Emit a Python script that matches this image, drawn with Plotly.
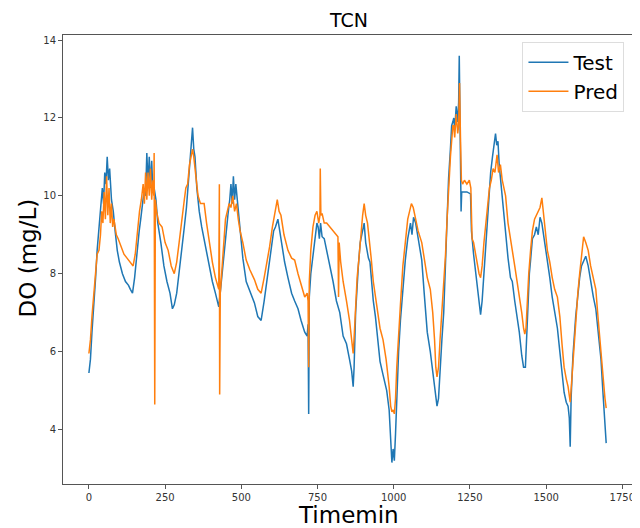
import plotly.graph_objects as go

# Test series (time in minutes, DO in mg/L)
test_t = [0, 5, 10, 16, 22, 27, 33, 38, 44, 48, 52, 56, 60, 64, 68, 74, 80, 86, 93, 100,
          110, 120, 130, 136, 143, 150, 158, 165, 170, 176, 182, 186, 190, 194, 198, 202, 206, 210, 214, 220,
          226, 236, 246, 256, 266, 274, 280, 288, 296, 305, 313, 320, 326, 332, 336, 340, 344, 348, 354, 362,
          370, 380, 395, 405, 415, 426, 432, 440, 448, 456, 462, 466, 470, 474, 478, 482, 488, 495, 505, 516,
          530, 543, 554, 565, 575, 585, 593, 600, 606, 612, 620, 626, 632, 642, 653, 665, 675, 686, 696, 708,
          716, 719, 721, 723, 728, 735, 742, 748, 752, 756, 760, 765, 772, 780, 790, 801, 812, 823, 834, 845,
          855, 862, 867, 870, 875, 878, 884, 890, 896, 903, 908, 912, 917, 922, 927, 933, 940, 948, 955, 965,
          977, 985, 990, 994, 998, 1002, 1006, 1010, 1016, 1022, 1030, 1038, 1046, 1055, 1060, 1065, 1072, 1080, 1092, 1100,
          1110, 1120, 1130, 1137, 1142, 1147, 1152, 1158, 1164, 1170, 1175, 1180, 1186, 1190, 1194, 1197, 1200, 1205, 1210, 1213,
          1215, 1217, 1219, 1221, 1223, 1240, 1252, 1255, 1262, 1268, 1275, 1280, 1285, 1290, 1296, 1302, 1306, 1312, 1318, 1324,
          1330, 1334, 1338, 1342, 1346, 1352, 1358, 1363, 1367, 1375, 1383, 1389, 1397, 1405, 1412, 1420, 1426, 1432, 1436, 1440,
          1445, 1449, 1455, 1462, 1468, 1474, 1480, 1486, 1492, 1498, 1504, 1512, 1520, 1528, 1537, 1545, 1552, 1559, 1566, 1572,
          1576, 1579, 1582, 1588, 1597, 1604, 1610, 1616, 1622, 1630, 1638, 1646, 1655, 1663, 1670, 1676, 1680, 1686, 1692, 1697]
test_do = [5.45, 5.8, 6.5, 7.1, 7.9, 8.6, 9.2, 9.6, 10.2, 9.8, 10.6, 10.3, 11.0, 10.4, 10.7, 9.9, 9.6, 9.1, 8.6, 8.3,
           8.0, 7.8, 7.7, 7.6, 7.5, 7.9, 8.6, 9.1, 9.4, 9.8, 10.2, 10.0, 11.1, 10.3, 11.0, 10.2, 10.9, 10.1, 10.2, 9.9,
           9.3, 8.8, 8.2, 7.8, 7.5, 7.1, 7.2, 7.5, 8.1, 8.7, 9.2, 9.7, 10.3, 10.9, 11.2, 11.75, 11.2, 11.0, 10.2, 9.6,
           9.2, 8.8, 8.2, 7.8, 7.5, 7.15, 7.6, 8.3, 9.0, 9.5, 9.9, 10.3, 9.8, 10.5, 9.9, 10.3, 9.8, 9.2, 8.4, 7.8,
           7.5, 7.25, 6.9, 6.8, 7.3, 7.9, 8.4, 8.7, 9.1, 9.2, 9.4, 9.1, 8.8, 8.3, 7.9, 7.5, 7.3, 7.1, 6.8, 6.5,
           6.4, 6.7, 4.4, 7.4, 8.0, 8.45, 8.9, 9.3, 9.2, 8.9, 9.3, 8.95, 8.9, 8.6, 8.2, 7.8, 7.3, 7.0, 6.4, 6.2,
           5.8, 5.5, 5.1, 5.6, 7.0, 7.5, 8.2, 8.8, 9.0, 9.3, 8.8, 8.6, 8.4, 8.3, 7.8, 7.3, 6.9, 6.3, 5.75, 5.4,
           5.0, 4.5, 3.6, 3.15, 3.5, 3.2, 3.9, 5.0, 6.0, 6.8, 7.6, 8.35, 8.9, 9.3, 9.0, 9.45, 9.3, 8.9, 8.35, 7.5,
           6.5, 6.0, 5.3, 4.8, 4.6, 4.8, 5.6, 6.3, 7.0, 8.3, 9.5, 10.45, 11.2, 11.8, 11.9, 12.0, 11.7, 12.3, 11.9, 12.4,
           13.6, 12.6, 11.5, 9.6, 10.1, 10.1, 10.05, 9.1, 8.5, 8.05, 7.6, 7.2, 6.95, 7.3, 8.0, 8.9, 9.4, 10.0, 10.6, 11.0,
           11.4, 11.6, 11.3, 11.4, 10.8, 10.3, 9.8, 9.3, 9.1, 8.4, 7.9, 7.8, 7.3, 6.9, 6.5, 5.9, 5.6, 5.6, 6.3, 7.4,
           8.0, 8.35, 8.9, 9.0, 9.2, 9.0, 9.45, 9.3, 9.0, 8.7, 8.35, 7.9, 7.4, 7.0, 6.6, 6.0, 5.4, 4.95, 4.7, 4.6,
           4.3, 3.56, 4.8, 5.9, 6.9, 7.5, 7.9, 8.2, 8.3, 8.45, 8.2, 7.8, 7.4, 7.1, 6.6, 6.2, 5.8, 5.0, 4.2, 3.65]

# Pred series
pred_t = [0, 5, 10, 16, 22, 27, 33, 38, 42, 46, 50, 54, 58, 62, 66, 70, 74, 78, 82, 90,
          96, 105, 115, 125, 135, 145, 152, 160, 166, 172, 178, 182, 186, 190, 194, 198, 202, 206, 210, 213,
          214, 216, 218, 222, 230, 240, 250, 260, 270, 280, 288, 296, 304, 313, 318, 324, 330, 336, 340, 344,
          350, 358, 366, 378, 386, 395, 405, 415, 421, 426, 428, 429, 431, 436, 442, 448, 454, 460, 466, 472,
          478, 484, 490, 496, 505, 516, 528, 543, 554, 565, 575, 585, 593, 602, 610, 618, 624, 630, 640, 653,
          665, 675, 686, 696, 708, 716, 719, 721, 723, 728, 735, 742, 748, 754, 758, 759, 761, 765, 772, 780,
          790, 800, 810, 817, 819, 821, 826, 834, 845, 855, 862, 867, 871, 875, 880, 886, 892, 898, 903, 908,
          914, 920, 926, 933, 940, 948, 955, 965, 975, 985, 990, 994, 998, 1002, 1006, 1010, 1016, 1022, 1030, 1038,
          1046, 1052, 1058, 1064, 1070, 1080, 1092, 1100, 1110, 1120, 1128, 1134, 1138, 1142, 1147, 1152, 1158, 1164, 1170, 1175,
          1180, 1186, 1190, 1194, 1197, 1200, 1205, 1210, 1213, 1216, 1219, 1222, 1226, 1232, 1240, 1248, 1253, 1257, 1262, 1268,
          1275, 1280, 1285, 1290, 1296, 1302, 1308, 1314, 1320, 1326, 1332, 1339, 1344, 1350, 1356, 1362, 1367, 1375, 1383, 1389,
          1397, 1405, 1412, 1420, 1426, 1430, 1434, 1438, 1443, 1449, 1455, 1462, 1468, 1474, 1480, 1486, 1490, 1496, 1504, 1512,
          1520, 1528, 1537, 1545, 1552, 1559, 1566, 1572, 1579, 1584, 1590, 1597, 1604, 1610, 1616, 1623, 1630, 1638, 1646, 1655,
          1663, 1670, 1676, 1682, 1688, 1693, 1697]
pred_do = [5.95, 6.3, 6.9, 7.4, 8.1, 8.5, 8.6, 9.0, 9.6, 9.3, 10.1, 9.4, 10.5, 9.5, 10.2, 9.3, 9.8, 9.2, 9.4, 9.0,
           8.9, 8.7, 8.5, 8.4, 8.3, 8.2, 8.5, 9.2, 9.6, 9.9, 10.3, 9.8, 10.6, 9.9, 10.6, 10.0, 10.7, 9.9, 10.4, 10.0,
           11.1, 4.64, 9.9, 9.6, 9.3, 9.2, 8.8, 8.6, 8.2, 8.0, 8.3, 8.8, 9.4, 9.9, 10.2, 10.3, 10.8, 11.0, 11.2, 11.0,
           10.6, 10.0, 9.8, 9.8, 9.3, 8.8, 8.3, 7.9, 7.75, 7.6, 10.3, 4.9, 7.5, 8.0, 8.8, 9.4, 9.6, 9.8, 9.7, 10.0,
           9.6, 9.8, 9.4, 9.1, 8.8, 8.35, 8.1, 7.85, 7.6, 7.5, 7.9, 8.3, 8.7, 9.2, 9.6, 9.9, 9.6, 9.5, 9.0, 8.6,
           8.4, 8.35, 8.0, 7.7, 7.4, 7.5, 7.3, 5.6, 7.8, 8.6, 9.2, 9.5, 9.6, 9.3, 9.5, 10.7, 9.5, 9.55, 9.3, 9.3,
           9.2, 9.1, 9.0, 8.95, 7.4, 8.8, 8.3, 7.8, 7.3, 6.8, 6.3, 5.95, 6.5, 7.3, 7.9, 8.4, 9.0, 9.5, 9.8, 9.5,
           9.3, 8.9, 8.4, 7.8, 7.4, 7.0, 6.6, 6.3, 5.8, 5.1, 4.6, 4.45, 4.5, 4.4, 4.8, 5.6, 6.5, 7.2, 8.2, 8.9,
           9.4, 9.6, 9.8, 9.7, 9.5, 9.1, 8.8, 8.4, 7.9, 7.6, 7.0, 6.3, 5.6, 5.35, 5.6, 6.3, 7.0, 7.6, 8.5, 9.4,
           10.3, 11.0, 11.4, 11.8, 11.8, 11.5, 12.1, 11.6, 11.8, 12.9, 11.5, 10.4, 10.3, 10.4, 10.3, 10.4, 10.2, 8.9, 8.8, 8.5,
           8.2, 8.0, 7.9, 8.2, 8.8, 9.3, 9.7, 10.2, 10.4, 10.7, 10.6, 11.05, 10.6, 10.8, 10.4, 10.2, 10.0, 9.3, 8.95, 8.6,
           8.2, 7.8, 7.5, 7.0, 6.6, 6.45, 6.6, 7.3, 8.0, 8.6, 9.1, 9.4, 9.5, 9.6, 9.7, 9.95, 9.6, 9.2, 8.6, 8.3,
           7.9, 7.6, 7.4, 6.9, 6.2, 5.6, 5.3, 5.1, 4.7, 5.3, 6.1, 6.9, 7.5, 8.0, 8.5, 8.95, 8.8, 8.6, 8.2, 7.9,
           7.6, 6.9, 6.3, 5.8, 5.3, 4.8, 4.55]

x_ticks = [0, 250, 500, 750, 1000, 1250, 1500, 1750]
y_ticks = [4, 6, 8, 10, 12, 14]

fig = go.Figure()
fig.add_trace(go.Scatter(x=test_t, y=test_do, mode='lines', name='Test',
                         line=dict(color='#1f77b4', width=1.5)))
fig.add_trace(go.Scatter(x=pred_t, y=pred_do, mode='lines', name='Pred',
                         line=dict(color='#ff7f0e', width=1.5)))

axis_common = dict(showline=True, linecolor='#555555', linewidth=1, mirror=True,
                   showgrid=False, zeroline=False, ticks='outside', ticklen=4,
                   tickcolor='#555555', tickfont=dict(size=10, color='#333333'),
                   automargin=False)

# the page body adds an 8px offset, so the figure is 8px smaller each way
fig.update_layout(
    width=632, height=520,
    paper_bgcolor='white', plot_bgcolor='white',
    font=dict(family='DejaVu Sans', color='black'),
    margin=dict(l=55, r=7, t=27, b=44),
    xaxis=dict(range=[-85, 1785], tickvals=x_ticks, **axis_common),
    yaxis=dict(range=[2.6, 14.13], tickvals=y_ticks, **axis_common),
    legend=dict(x=0.985, y=0.985, xanchor='right', yanchor='top',
                bgcolor='white', bordercolor='#dddddd', borderwidth=1,
                font=dict(size=20), itemwidth=40, tracegroupgap=0),
    showlegend=True,
)

# title and axis titles placed as text annotations
fig.add_annotation(text='TCN', xref='paper', yref='paper', x=0.5, y=1.033,
                   showarrow=False, font=dict(size=19), xanchor='center', yanchor='middle')
fig.add_annotation(text='Timemin', xref='paper', yref='paper', x=0.5, y=-0.069,
                   showarrow=False, font=dict(size=23), xanchor='center', yanchor='middle')
fig.add_annotation(text='DO (mg/L)', xref='paper', yref='paper', x=-0.061, y=0.503,
                   showarrow=False, font=dict(size=23), textangle=-90,
                   xanchor='center', yanchor='middle')

fig.write_html("out.html")
